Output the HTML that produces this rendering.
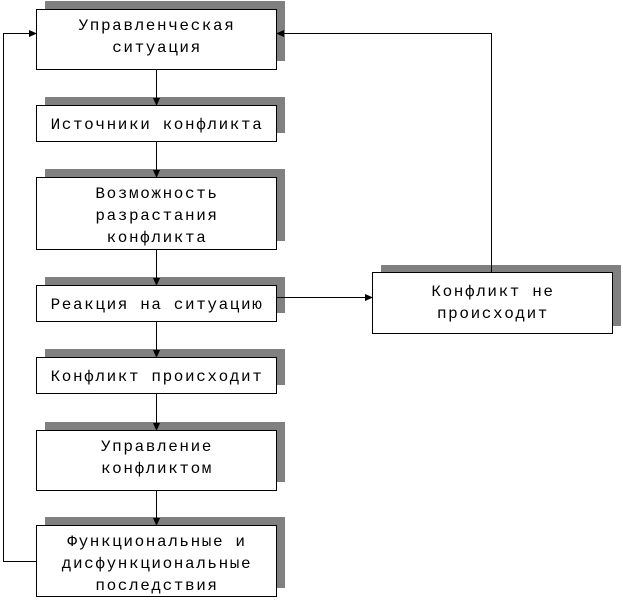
<!DOCTYPE html>
<html><head><meta charset="utf-8"><style>
html,body{margin:0;padding:0;background:#fff;}
svg text{font-family:"Liberation Mono","Courier New","DejaVu Sans Mono",monospace;font-size:16px;letter-spacing:1.6px;fill:#000;}
</style></head><body>
<svg width="623" height="601" xmlns="http://www.w3.org/2000/svg">
<defs><marker id="a" markerWidth="8" markerHeight="8" refX="7" refY="4" orient="auto" markerUnits="userSpaceOnUse"><path d="M0,0.5 L8,4 L0,7.5 Z" fill="#000"/></marker></defs>
<g fill="#808080">
<rect x="45" y="1" width="240" height="60"/>
<rect x="45" y="97" width="240" height="36"/>
<rect x="45" y="169" width="240" height="72"/>
<rect x="45" y="277" width="240" height="36"/>
<rect x="45" y="349" width="240" height="36"/>
<rect x="45" y="422" width="240" height="60"/>
<rect x="45" y="517" width="240" height="71"/>
<rect x="381" y="265" width="240" height="61"/>
</g>
<g fill="#fff" stroke="#000" stroke-width="1">
<rect x="36.5" y="9.5" width="240" height="60"/>
<rect x="36.5" y="105.5" width="240" height="36"/>
<rect x="36.5" y="177.5" width="240" height="72"/>
<rect x="36.5" y="285.5" width="240" height="36"/>
<rect x="36.5" y="357.5" width="240" height="36"/>
<rect x="36.5" y="430.5" width="240" height="60"/>
<rect x="36.5" y="525.5" width="240" height="71"/>
<rect x="372.5" y="272.5" width="240" height="61"/>
</g>
<g stroke="#000" stroke-width="1" fill="none">
<line x1="156.5" y1="70" x2="156.5" y2="105" marker-end="url(#a)"/>
<line x1="156.5" y1="142" x2="156.5" y2="177" marker-end="url(#a)"/>
<line x1="156.5" y1="250" x2="156.5" y2="285" marker-end="url(#a)"/>
<line x1="156.5" y1="322" x2="156.5" y2="357" marker-end="url(#a)"/>
<line x1="156.5" y1="394" x2="156.5" y2="430" marker-end="url(#a)"/>
<line x1="156.5" y1="491" x2="156.5" y2="525" marker-end="url(#a)"/>
<line x1="277" y1="297.5" x2="372" y2="297.5" marker-end="url(#a)"/>
<polyline points="36,561.5 3.5,561.5 3.5,33.5 36,33.5" marker-end="url(#a)"/>
<polyline points="491.5,272 491.5,33.5 277,33.5" marker-end="url(#a)"/>
</g>
<g text-anchor="middle" font-family="Liberation Mono, monospace">
<text x="157" y="30">Управленческая</text>
<text x="157" y="52">ситуация</text>
<text x="157" y="129">Источники конфликта</text>
<text x="157" y="198">Возможность</text>
<text x="157" y="220">разрастания</text>
<text x="157" y="242">конфликта</text>
<text x="157" y="309">Реакция на ситуацию</text>
<text x="157" y="381">Конфликт происходит</text>
<text x="157" y="451">Управление</text>
<text x="157" y="473">конфликтом</text>
<text x="157" y="546">Функциональные и</text>
<text x="157" y="568">дисфункциональные</text>
<text x="157" y="590">последствия</text>
<text x="493" y="296">Конфликт не</text>
<text x="493" y="318">происходит</text>
</g>
</svg>
</body></html>
